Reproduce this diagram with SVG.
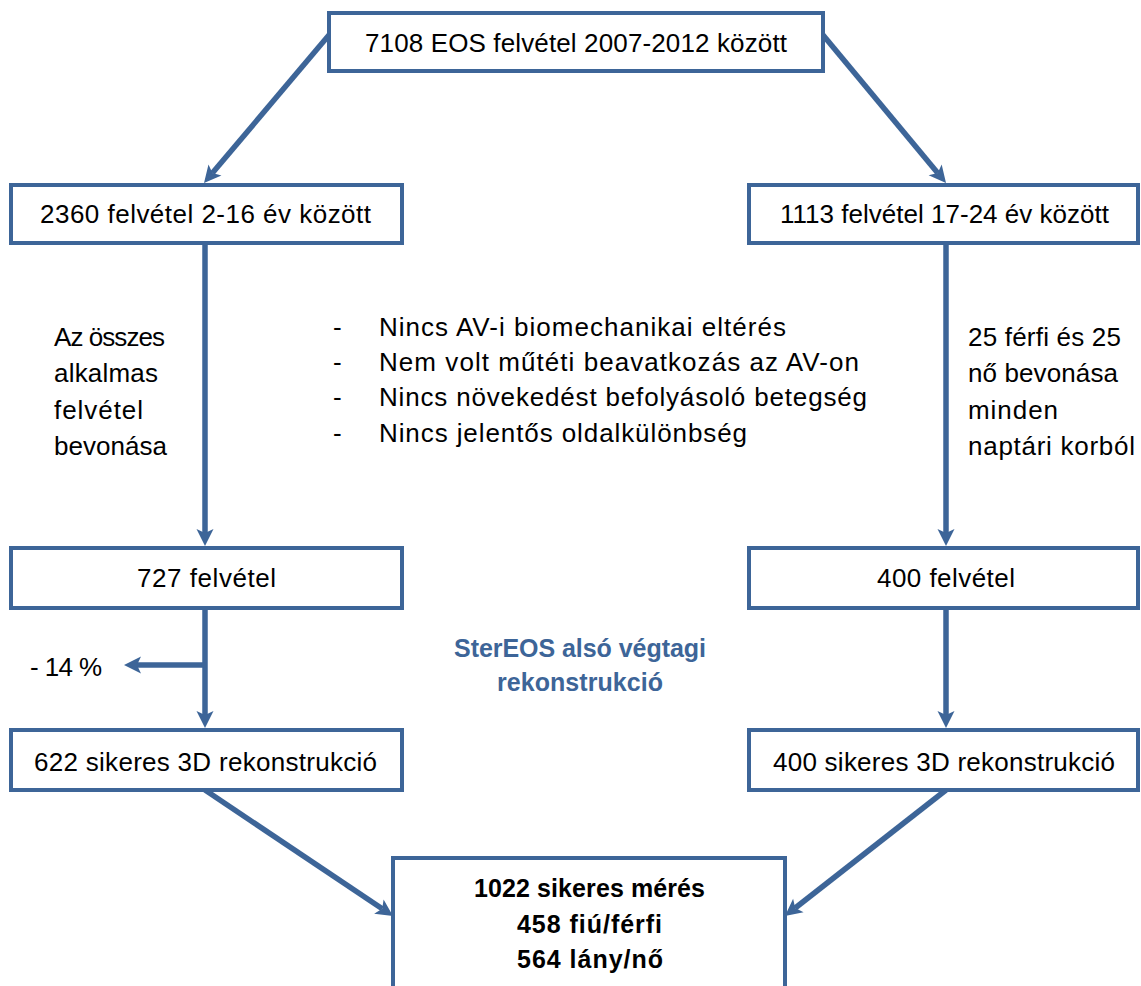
<svg xmlns="http://www.w3.org/2000/svg" width="1141" height="986" viewBox="0 0 1141 986">
<style>
.box{fill:#fff;stroke:#3d6598;stroke-width:4}
.t{font-family:"Liberation Sans",Arial,sans-serif;font-size:26px;fill:#000}
.b{font-family:"Liberation Sans",Arial,sans-serif;font-size:25px;font-weight:bold;fill:#000}
.blue{font-family:"Liberation Sans",Arial,sans-serif;font-size:25px;font-weight:bold;fill:#3d6598}
.c{fill:none;stroke:#3d6598;stroke-width:5.5}
</style>
<defs>
<marker id="ah" viewBox="-1 -10 20 20" refX="4" refY="0" markerWidth="20" markerHeight="20" markerUnits="userSpaceOnUse" orient="auto">
<path d="M0,-8.5 L17,0 L0,8.5 L4,0 z" fill="#3d6598"/>
</marker>
</defs>
<rect width="1141" height="986" fill="#fff"/>
<g id="connectors">
<line class="c" x1="329" y1="35" x2="212.4" y2="173.1" marker-end="url(#ah)"/>
<line class="c" x1="823" y1="35" x2="937.7" y2="173" marker-end="url(#ah)"/>
<line class="c" x1="205" y1="243" x2="205" y2="533" marker-end="url(#ah)"/>
<line class="c" x1="946" y1="243" x2="946" y2="533" marker-end="url(#ah)"/>
<line class="c" x1="205" y1="608" x2="205" y2="715" marker-end="url(#ah)"/>
<line class="c" x1="205" y1="665" x2="137" y2="665" marker-end="url(#ah)"/>
<line class="c" x1="946" y1="608" x2="946" y2="715" marker-end="url(#ah)"/>
<line class="c" x1="205" y1="790" x2="382.2" y2="908.8" marker-end="url(#ah)"/>
<line class="c" x1="946" y1="790" x2="795.2" y2="908" marker-end="url(#ah)"/>
</g>
<g id="n-top">
<rect class="box" x="329" y="13" width="494" height="58"/>
<text class="t" x="365" y="52" textLength="422">7108 EOS felvétel 2007-2012 között</text>
</g>
<g id="n-young">
<rect class="box" x="11" y="185" width="391" height="58"/>
<text class="t" x="40" y="223" textLength="331">2360 felvétel 2-16 év között</text>
</g>
<g id="n-adult">
<rect class="box" x="749" y="185" width="389" height="58"/>
<text class="t" x="780" y="223" textLength="329">1113 felvétel 17-24 év között</text>
</g>
<g id="n-727">
<rect class="box" x="11" y="548" width="391" height="60"/>
<text class="t" x="137" y="587" textLength="139">727 felvétel</text>
</g>
<g id="n-400">
<rect class="box" x="749" y="548" width="389" height="60"/>
<text class="t" x="877" y="587" textLength="138">400 felvétel</text>
</g>
<g id="n-622">
<rect class="box" x="11" y="730" width="391" height="60"/>
<text class="t" x="34" y="771" textLength="343">622 sikeres 3D rekonstrukció</text>
</g>
<g id="n-400s">
<rect class="box" x="749" y="730" width="389" height="60"/>
<text class="t" x="773" y="771" textLength="342">400 sikeres 3D rekonstrukció</text>
</g>
<g id="n-final">
<rect class="box" x="393" y="858" width="392" height="150"/>
<text class="b" x="474" y="897" textLength="231">1022 sikeres mérés</text>
<text class="b" x="517" y="933" textLength="145">458 fiú/férfi</text>
<text class="b" x="517" y="968" textLength="146">564 lány/nő</text>
</g>
<g id="label-left">
<text class="t" x="54" y="346" textLength="111">Az összes</text>
<text class="t" x="54" y="382" textLength="104">alkalmas</text>
<text class="t" x="54" y="419" textLength="89">felvétel</text>
<text class="t" x="54" y="455" textLength="113">bevonása</text>
</g>
<g id="label-right">
<text class="t" x="968" y="346" textLength="153">25 férfi és 25</text>
<text class="t" x="968" y="382" textLength="150">nő bevonása</text>
<text class="t" x="968" y="419" textLength="90">minden</text>
<text class="t" x="968" y="455" textLength="167">naptári korból</text>
</g>
<g id="criteria">
<text class="t" x="333" y="336">-</text>
<text class="t" x="379" y="336" textLength="407">Nincs AV-i biomechanikai eltérés</text>
<text class="t" x="333" y="371">-</text>
<text class="t" x="379" y="371" textLength="480">Nem volt műtéti beavatkozás az AV-on</text>
<text class="t" x="333" y="406">-</text>
<text class="t" x="379" y="406" textLength="488">Nincs növekedést befolyásoló betegség</text>
<text class="t" x="333" y="442">-</text>
<text class="t" x="379" y="442" textLength="368">Nincs jelentős oldalkülönbség</text>
</g>
<g id="label-drop">
<text class="t" x="30" y="676" textLength="72">- 14 %</text>
</g>
<g id="label-stereos">
<text class="blue" x="454" y="657" textLength="252">SterEOS alsó végtagi</text>
<text class="blue" x="497" y="691" textLength="166">rekonstrukció</text>
</g>
</svg>
